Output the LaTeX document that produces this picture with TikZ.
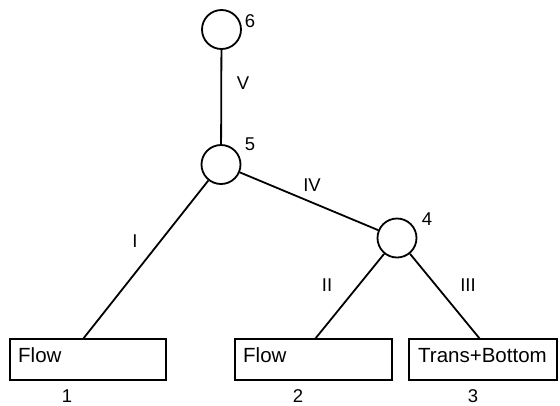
\documentclass[tikz,border=0pt]{standalone}
\usepackage{fontspec}
\setmainfont{Liberation Sans}
\begin{document}
\begin{tikzpicture}[x=1pt,y=-1pt,
  ln/.style={line width=1.8pt},
  circ/.style={circle,draw,line width=1.8pt,minimum size=39pt,inner sep=0pt},
  boxn/.style={rectangle,draw,line width=1.8pt,minimum height=41pt,inner sep=0pt},
  lbl/.style={font=\fontsize{18.5}{20}\selectfont,inner sep=0pt},
  btxt/.style={font=\fontsize{20.5}{22}\selectfont,inner sep=0pt,anchor=base west}]
\useasboundingbox (0,0) rectangle (560,405);
% circles
\node[circ] (n6) at (221.5,29.5) {};
\node[circ] (n5) at (221,164.5) {};
\node[circ] (n4) at (397,238) {};
% boxes
\node[boxn,minimum width=156pt] (b1) at (88,359.5) {};
\node[boxn,minimum width=157pt] (b2) at (313.5,359.5) {};
\node[boxn,minimum width=148pt] (b3) at (483,359.5) {};
\node[btxt] (t1) at (18,362) {Flow};
\node[btxt] (t2) at (243,362) {Flow};
\node[btxt] (t3) at (418,362) {Trans+Bottom};
% attachment points
\coordinate (a1) at (83,339);
\coordinate (a2) at (315,339);
\coordinate (a3) at (480,339);
% connectors
\draw[ln] (n6) -- (n5);
\draw[ln] (n5) -- (n4);
\draw[ln] (a1) -- (n5);
\draw[ln] (a2) -- (n4);
\draw[ln] (a3) -- (n4);
% node labels
\node[lbl] (l6) at (250,21) {6};
\node[lbl] (l5) at (250,144) {5};
\node[lbl] (l4) at (427,219) {4};
\node[lbl,anchor=base] (l1) at (67,402.5) {1};
\node[lbl,anchor=base] (l2) at (298,402.5) {2};
\node[lbl,anchor=base] (l3) at (473,402.5) {3};
% edge labels
\node[lbl] (eV) at (243,83) {V};
\node[lbl] (eIV) at (312,185) {IV};
\node[lbl] (eI) at (135,241) {I};
\node[lbl] (eII) at (327,285) {II};
\node[lbl] (eIII) at (468,285) {III};
\end{tikzpicture}
\end{document}
